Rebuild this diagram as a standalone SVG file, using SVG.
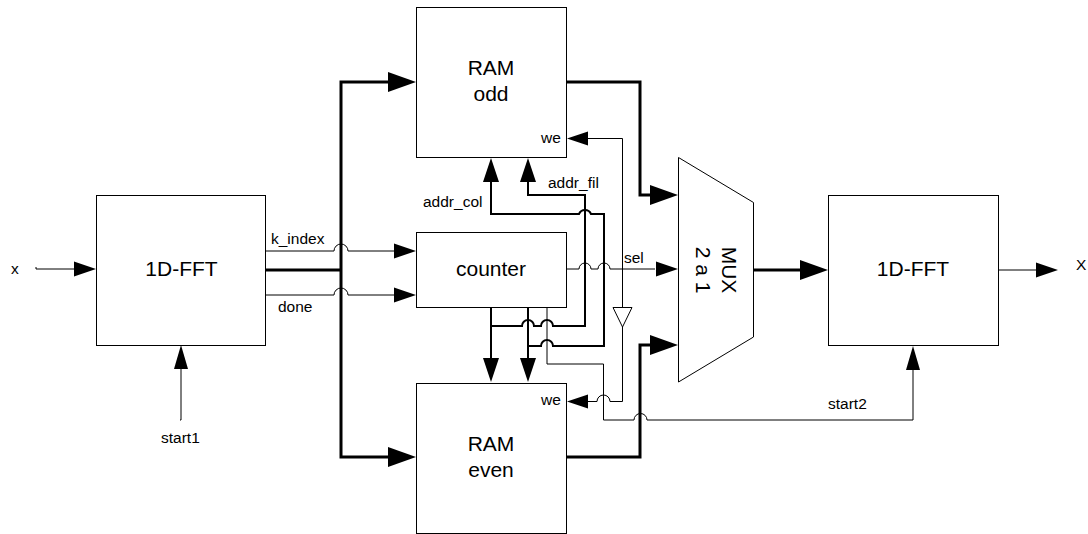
<svg xmlns="http://www.w3.org/2000/svg" width="1088" height="534" viewBox="0 0 1088 534">
<style>
text{font-family:"Liberation Sans",Arial,sans-serif;fill:#000;font-size:15.5px}
.big{font-size:21px;text-anchor:middle}
.box{fill:#fff;stroke:#000;stroke-width:1}
.thin{fill:none;stroke:#000;stroke-width:1}
.thick{fill:none;stroke:#000;stroke-width:3}
.med{fill:none;stroke:#000;stroke-width:2}
.ah{fill:#000;stroke:none}
</style>
<defs>
<path id="ar" class="ah" d="M0 0L-22-7.500V7.500Z"/>
<path id="arb" class="ah" d="M0 0L-28-10V10Z"/>
<path id="au" class="ah" d="M0 0L-8 24H8Z"/>
<path id="aus" class="ah" d="M0 0L-7 24H7Z"/>
<path id="ad" class="ah" d="M0 0L-8-24H8Z"/>
<path id="al" class="ah" d="M0 0L21-7V7Z"/>
</defs>
<rect width="1088" height="534" fill="#fff"/>
<g id="connectors">
<path class="thick" d="M265 270H341M395 82H341V457H395"/>
<path class="thick" d="M566 82H640V195H655M566 457H640V345H655"/>
<path class="thick" d="M754 270H805"/>
<path class="thin" d="M36 267V269H75M998 270H1037M180 420H181V368"/>
<path class="thin" d="M265 251H334A7 7 0 0 1 348 251H395M265 295H334A7 7 0 0 1 348 295H395"/>
<path class="thin" d="M566 269H579A6 6 0 0 1 591 269H598A6 6 0 0 1 610 269H655"/>
<path class="med" d="M491 182V214H579A6.500 6.500 0 0 1 591 214H604V346H553A6 6 0 0 0 541 346H528"/>
<path class="med" d="M528 182V195H585V326H553A6 6 0 0 0 541 326H534A6 6 0 0 0 522 326H491"/>
<path class="med" d="M491 307V360M528 307V360"/>
<path class="thin" d="M547 307V364H603.500V420H634A6.500 6.500 0 0 1 647 420H913V370"/>
<path class="thin" d="M588 138.500H622.500V307M622.500 327V401.500H610A6.500 6.500 0 0 0 597 401.500H588"/>
<path class="box" d="M613 307.500H632L622.500 327Z"/>
<use href="#arb" x="416" y="82"/>
<use href="#arb" x="416" y="457"/>
<use href="#ar" x="416" y="251"/>
<use href="#ar" x="416" y="295"/>
<use href="#ar" x="96" y="269"/>
<use href="#arb" x="678" y="195"/>
<use href="#arb" x="678" y="345"/>
<use href="#ar" x="678" y="269"/>
<use href="#arb" x="828" y="270"/>
<use href="#ar" x="1058" y="270"/>
<use href="#aus" x="181" y="345"/>
<use href="#aus" x="913" y="346"/>
<use href="#au" x="491" y="158"/>
<use href="#au" x="528" y="158"/>
<use href="#ad" x="491" y="382"/>
<use href="#ad" x="528" y="382"/>
<use href="#al" x="567" y="138.500"/>
<use href="#al" x="567" y="401.500"/>
</g>
<g id="fft1"><rect class="box" x="96.500" y="195.500" width="169" height="150"/><text class="big" x="181.500" y="276">1D-FFT</text></g>
<g id="ram-odd"><rect class="box" x="416.500" y="7.500" width="150" height="150"/><text class="big" x="491" y="75">RAM</text><text class="big" x="491" y="101">odd</text><text x="541" y="143">we</text></g>
<g id="counter"><rect class="box" x="416.500" y="232.500" width="150" height="75"/><text class="big" x="491" y="276">counter</text></g>
<g id="ram-even"><rect class="box" x="416.500" y="383.500" width="150" height="150"/><text class="big" x="491" y="451">RAM</text><text class="big" x="491" y="477">even</text><text x="541" y="405">we</text></g>
<g id="mux"><path class="box" d="M678.500 157.500L753.500 202.500V337L678.500 382Z"/><text class="big" transform="translate(722 270) rotate(90)">MUX</text><text class="big" transform="translate(696 270) rotate(90)">2 a 1</text></g>
<g id="fft2"><rect class="box" x="828.500" y="195.500" width="170" height="150"/><text class="big" x="913" y="276">1D-FFT</text></g>
<g id="labels">
<text x="11" y="274">x</text><text x="1076" y="270">X</text>
<text x="271" y="244">k_index</text><text x="278" y="312">done</text>
<text x="423" y="207">addr_col</text><text x="548" y="188">addr_fil</text><text x="624" y="263">sel</text>
<text x="161" y="443">start1</text><text x="828" y="409">start2</text>
</g>
</svg>
